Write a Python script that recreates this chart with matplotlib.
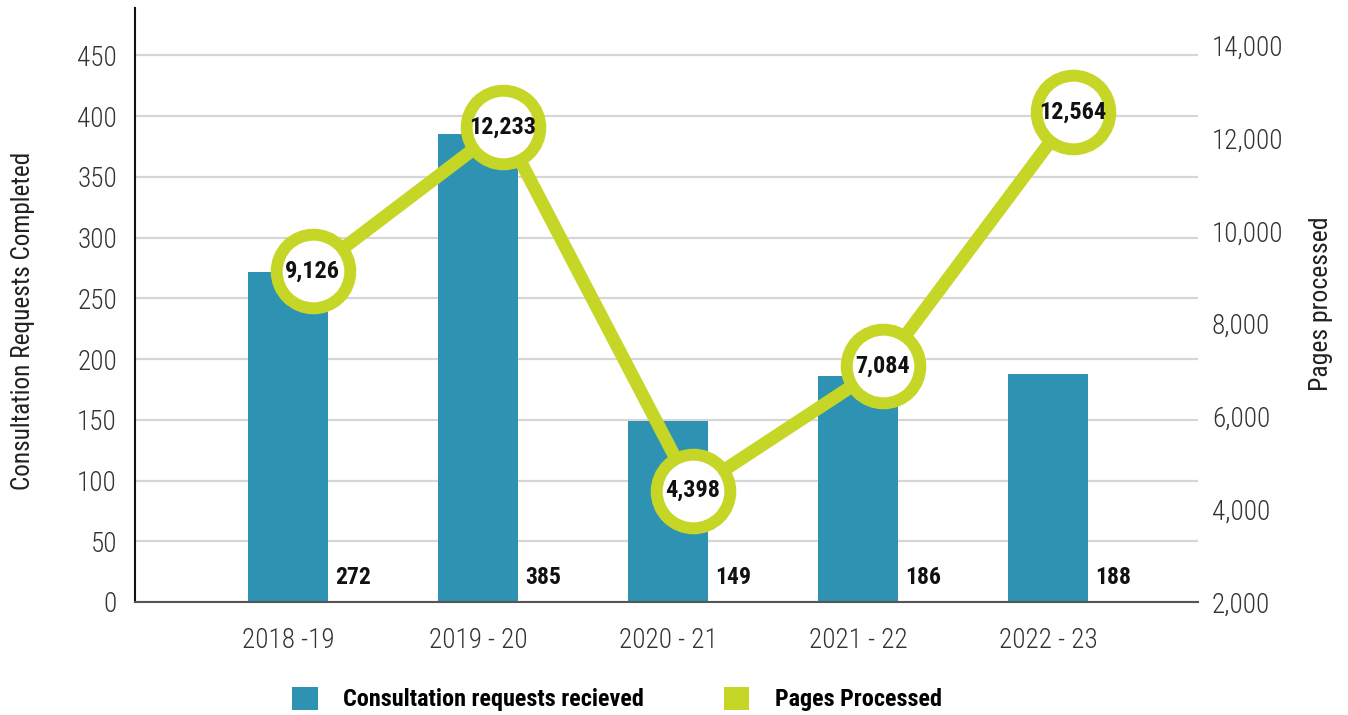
import matplotlib.pyplot as plt
import numpy as np
from matplotlib import font_manager as fm
from matplotlib.patches import Patch

years = ["2018 -19", "2019 - 20", "2020 - 21", "2021 - 22", "2022 - 23"]
requests = [272, 385, 149, 186, 188]
pages = [9126, 12233, 4398, 7084, 12564]

bar_color = "#2e93b2"
line_color = "#c6d626"

# pick a narrow sans if one is around, otherwise a condensed stretch
installed = {f.name for f in fm.fontManager.ttflist}
condensed = sorted({f.name for f in fm.fontManager.ttflist
                    if f.stretch in ("condensed", "semi-condensed")
                    or "Condensed" in f.name or "Narrow" in f.name})
family = "DejaVu Sans"
for cand in ["Liberation Sans Narrow", "Roboto Condensed", "Open Sans Condensed",
             "Noto Sans Condensed", "DejaVu Sans Condensed"] + condensed:
    if cand in installed:
        family = cand
        break
plt.rcParams["font.family"] = [family, "DejaVu Sans"]
plt.rcParams["font.stretch"] = "condensed"
plt.rcParams["font.weight"] = "light"

fig = plt.figure(figsize=(13.48, 7.15), dpi=100)
ax = fig.add_axes([135 / 1348, 1 - 602 / 715, (1198 - 135) / 1348, (602 - 8) / 715])
ax2 = ax.twinx()

x = np.arange(len(years))
ax.bar(x, requests, width=0.42, color=bar_color, zorder=2)
for xi, v in zip(x, requests):
    ax.text(xi + 0.25, 11, f"{v}", fontsize=17, fontweight="bold",
            ha="left", va="bottom", color="#111111", zorder=3)

ax.set_xlim(-0.805, 4.79)
ax.set_ylim(0, 489)
ax.set_yticks(np.arange(0, 451, 50))
ax.grid(axis="y", color="#d6d6d6", linewidth=1.6, zorder=0)
ax.set_axisbelow(True)
ax.set_xticks(x)
ax.set_xticklabels(years)
ax.tick_params(axis="x", length=0, pad=18, labelsize=19.5, labelcolor="#333333")
ax.tick_params(axis="y", length=0, pad=13, labelsize=19.5, labelcolor="#333333")
ax.set_ylabel("Consultation Requests Completed", fontsize=18.2, color="#222222")
ax.yaxis.set_label_coords(-0.094, 0.473)

for s in ["top", "right"]:
    ax.spines[s].set_visible(False)
ax.spines["left"].set_color("#111111")
ax.spines["left"].set_linewidth(1.5)
ax.spines["bottom"].set_color("#555555")
ax.spines["bottom"].set_linewidth(1.5)

# pages line on the secondary axis, shifted slightly right of the bars
xl = x + 0.13
ax2.plot(xl, pages, color=line_color, linewidth=9.4, solid_capstyle="butt", zorder=3)
ax2.plot(xl, pages, "o", markersize=53, markerfacecolor="white",
         markeredgecolor=line_color, markeredgewidth=8.6, zorder=4)
for xi, v in zip(xl, pages):
    ax2.text(xi, v, f"{v:,}", fontsize=17.5, fontweight="bold", ha="center",
             va="center", color="#111111", zorder=5)

ax2.set_ylim(2000, 14800)
ax2.set_yticks(np.arange(2000, 14001, 2000))
ax2.yaxis.set_major_formatter(plt.FuncFormatter(lambda v, p: f"{int(v):,}"))
ax2.tick_params(axis="y", length=0, pad=10, labelsize=19.5, labelcolor="#333333")
ax2.set_ylabel("Pages processed", fontsize=18.5, color="#222222")
ax2.yaxis.set_label_coords(1.104, 0.503)
for s in ax2.spines.values():
    s.set_visible(False)
ax.set_zorder(ax2.get_zorder() - 1)
ax2.patch.set_visible(False)

handles = [Patch(facecolor=bar_color, label="Consultation requests recieved"),
           Patch(facecolor=line_color, label="Pages Processed")]
fig.legend(handles=handles, loc="center", bbox_to_anchor=(617 / 1348, 1 - 699 / 715),
           ncol=2, frameon=False, handlelength=1.05, handleheight=1.1,
           handletextpad=1.05, columnspacing=3.3,
           prop={"family": [family, "DejaVu Sans"], "stretch": "condensed",
                 "weight": "bold", "size": 17.4})

fig.savefig("out.png", dpi=100)
